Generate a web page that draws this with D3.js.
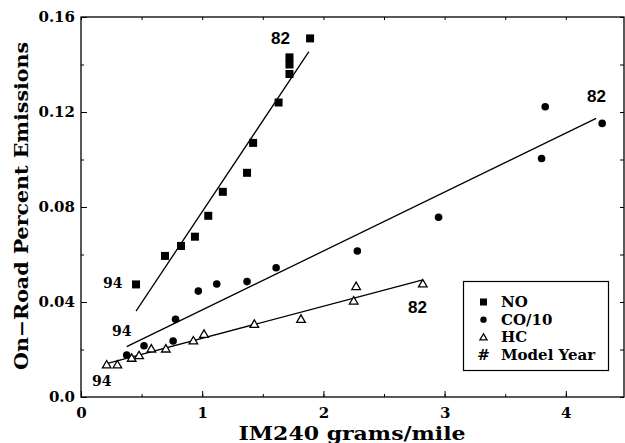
<!DOCTYPE html>
<html><head><meta charset="utf-8">
<script src="https://cdn.jsdelivr.net/npm/d3@7"></script>
<style>body{margin:0;background:#fff}svg{display:block}</style>
</head><body><svg id="c" width="625" height="443"></svg>
<script>
const noX = [0.454,0.693,0.825,0.94,1.05,1.17,1.37,1.42,1.63,1.72,1.72,1.72,1.89];
const noY = [0.0474,0.0594,0.0636,0.0675,0.0763,0.0864,0.0944,0.107,0.124,0.136,0.140,0.143,0.151];
const coX = [0.377,0.52,0.76,0.78,0.968,1.12,1.37,1.61,2.28,2.95,3.80,3.83,4.30];
const coY = [0.0177,0.0216,0.0236,0.0327,0.0446,0.0476,0.0486,0.0544,0.0615,0.0757,0.1004,0.1222,0.1152];
const hcX = [0.212,0.30,0.418,0.479,0.58,0.70,0.927,1.015,1.43,1.815,2.25,2.27,2.82];
const hcY = [0.0135,0.0135,0.0163,0.0174,0.0202,0.0202,0.0236,0.0264,0.0306,0.0327,0.0404,0.0465,0.0476];
const noFit = [[0.454,0.0362],[1.88,0.1454]];
const coFit = [[0.377,0.0212],[4.25,0.1173]];
const hcFit = [[0.212,0.0141],[2.82,0.0493]];
const xTicks = [0,1,2,3,4];
const yTicks = [0,0.04,0.08,0.12,0.16];
const yTickLabels = ["0.0","0.04","0.08","0.12","0.16"];
const legendItems = ["NO","CO/10","HC","Model Year"];
const yearLabels = [
  {t:"82", x:1.568, y:0.1486, f:"sans"},
  {t:"94", x:0.1815, y:0.0459, f:"serif"},
  {t:"94", x:0.256, y:0.0257, f:"serif"},
  {t:"94", x:0.091, y:0.0046, f:"serif"},
  {t:"82", x:4.175, y:0.1242, f:"sans"},
  {t:"82", x:2.698, y:0.0354, f:"sans"}
];

const svg = d3.select("#c");
const L=81, R=624, T=17, B=397;
const x = d3.scaleLinear().domain([0,4.48]).range([L,R]);
const y = d3.scaleLinear().domain([0,0.16]).range([B,T]);
const serif = "'DejaVu Serif', serif";
const sans = "'Liberation Sans', Arial, sans-serif";

// frame
svg.append("rect").attr("x",L).attr("y",T).attr("width",R-L).attr("height",B-T)
  .attr("fill","none").attr("stroke","#000").attr("stroke-width",1.3);

// axes with inward ticks
const xMinor = d3.range(0,4.5,0.5);
const yMinor = d3.range(0,0.161,0.02);
const gB = svg.append("g").attr("transform",`translate(0,${B})`)
  .call(d3.axisBottom(x).tickValues(xMinor).tickSize(-3).tickFormat(""));
const gB2 = svg.append("g").attr("transform",`translate(0,${B})`)
  .call(d3.axisBottom(x).tickValues(xTicks).tickSize(-6).tickPadding(10).tickFormat(d3.format("d")));
const gT = svg.append("g").attr("transform",`translate(0,${T})`)
  .call(d3.axisTop(x).tickValues(xMinor).tickSize(-3).tickFormat(""));
const gL = svg.append("g").attr("transform",`translate(${L},0)`)
  .call(d3.axisLeft(y).tickValues(yMinor).tickSize(-3).tickFormat(""));
const gL2 = svg.append("g").attr("transform",`translate(${L},0)`)
  .call(d3.axisLeft(y).tickValues(yTicks).tickSize(-6).tickPadding(6).tickFormat((d,i)=>yTickLabels[i]));
const gR = svg.append("g").attr("transform",`translate(${R},0)`)
  .call(d3.axisRight(y).tickValues(yMinor).tickSize(-4).tickFormat(""));
[gB,gB2,gT,gL,gL2,gR].forEach(g=>{g.select(".domain").remove();
  g.selectAll("line").attr("stroke","#000").attr("stroke-width",1);});
gB2.selectAll("text").attr("font-family",serif).attr("font-weight","bold").attr("font-size",15).attr("fill","#000");
gL2.selectAll("text").attr("font-family",serif).attr("font-weight","bold").attr("font-size",15).attr("fill","#000");

// axis titles
svg.append("text").attr("x",352).attr("y",440).attr("text-anchor","middle")
  .attr("font-family",serif).attr("font-weight","bold").attr("font-size",19)
  .attr("textLength",227).attr("lengthAdjust","spacingAndGlyphs").text("IM240 grams/mile");
svg.append("text").attr("transform","translate(28,206) rotate(-90)").attr("text-anchor","middle")
  .attr("font-family",serif).attr("font-weight","bold").attr("font-size",18)
  .attr("textLength",328).attr("lengthAdjust","spacingAndGlyphs").text("On\u2212Road Percent Emissions");

// fit lines
const line = d3.line().x(d=>x(d[0])).y(d=>y(d[1]));
[noFit,coFit,hcFit].forEach(f=>svg.append("path").attr("d",line(f))
  .attr("fill","none").attr("stroke","#000").attr("stroke-width",1.3));

// markers
const sq=8;
svg.append("g").selectAll("rect").data(d3.zip(noX,noY)).join("rect")
  .attr("x",d=>x(d[0])-sq/2).attr("y",d=>y(d[1])-sq/2).attr("width",sq).attr("height",sq).attr("fill","#000");
svg.append("g").selectAll("circle").data(d3.zip(coX,coY)).join("circle")
  .attr("cx",d=>x(d[0])).attr("cy",d=>y(d[1])).attr("r",3.8).attr("fill","#000");
const tri = d3.symbol().type(d3.symbolTriangle).size(32);
svg.append("g").selectAll("path").data(d3.zip(hcX,hcY)).join("path")
  .attr("d",tri).attr("transform",d=>`translate(${x(d[0])},${y(d[1])+0.5})`)
  .attr("fill","#fff").attr("stroke","#000").attr("stroke-width",1.3);

// year labels
svg.append("g").selectAll("text").data(yearLabels).join("text")
  .attr("x",d=>x(d.x)).attr("y",d=>y(d.y))
  .attr("font-family",d=>d.f==="sans"?sans:serif).attr("font-weight","bold")
  .attr("font-size",d=>d.f==="sans"?17:14).attr("fill","#000").text(d=>d.t);

// legend
const lg = svg.append("g");
lg.append("rect").attr("x",463.5).attr("y",281.5).attr("width",145).attr("height",89)
  .attr("fill","#fff").attr("stroke","#000").attr("stroke-width",1.2);
const ly = d3.scalePoint().domain(legendItems).range([302,355]);
const mx = 483.5;
lg.append("rect").attr("x",mx-3.5).attr("y",ly("NO")-3.5).attr("width",7).attr("height",7).attr("fill","#000");
lg.append("circle").attr("cx",mx).attr("cy",ly("CO/10")).attr("r",3.2).attr("fill","#000");
lg.append("path").attr("d",d3.symbol().type(d3.symbolTriangle).size(22))
  .attr("transform",`translate(${mx},${ly("HC")+0.5})`).attr("fill","#fff").attr("stroke","#000").attr("stroke-width",1.3);
lg.append("text").attr("x",mx).attr("y",ly("Model Year")+5).attr("text-anchor","middle")
  .attr("font-family",serif).attr("font-weight","bold").attr("font-size",15).attr("font-style","italic").text("#");
lg.selectAll("text.l").data(legendItems).join("text").attr("class","l")
  .attr("x",501).attr("y",d=>ly(d)+5)
  .attr("font-family",serif).attr("font-weight","bold").attr("font-size",15).attr("fill","#000").text(d=>d);
</script></body></html>
